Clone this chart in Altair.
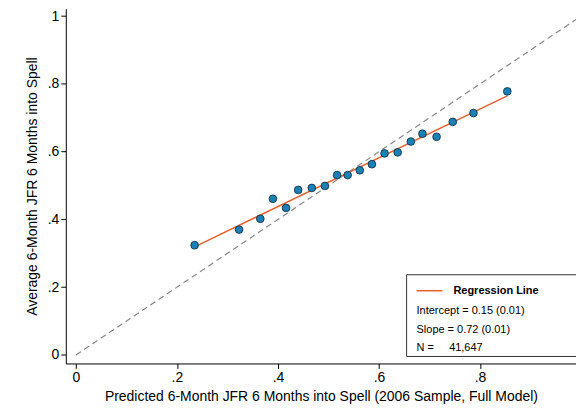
import altair as alt
import pandas as pd

pred = [0.235, 0.323, 0.365, 0.390, 0.416, 0.440, 0.467, 0.493, 0.517, 0.538,
        0.562, 0.586, 0.611, 0.637, 0.663, 0.686, 0.714, 0.746, 0.787, 0.854]
actual = [0.324, 0.370, 0.402, 0.461, 0.434, 0.487, 0.493, 0.499, 0.531, 0.531,
          0.545, 0.563, 0.595, 0.598, 0.630, 0.653, 0.644, 0.688, 0.714, 0.778]
intercept, slope = 0.15, 0.72
ticks = [0, 0.2, 0.4, 0.6, 0.8, 1]

pts = pd.DataFrame({"x": pred, "y": actual})
fit = pd.DataFrame({"x": [min(pred), max(pred)]})
fit["y"] = intercept + slope * fit["x"]
diag = pd.DataFrame({"x": [0, 1], "y": [0, 1]})

lab = "datum.value == 0 ? '0' : datum.value == 1 ? '1' : replace(format(datum.value, '.1f'), '0.', '.')"
X = alt.X("x:Q", scale=alt.Scale(domain=[-0.02, 0.99], nice=False),
          axis=alt.Axis(values=ticks, labelExpr=lab, grid=False, domainColor="black", tickColor="black",
                        labelFont="Liberation Sans", labelFontSize=14, labelColor="black",
                        titleFont="Liberation Sans", titleFontSize=14, titleFontWeight="normal",
                        titleColor="black", titlePadding=5),
          title="Predicted 6-Month JFR 6 Months into Spell (2006 Sample, Full Model)")
Y = alt.Y("y:Q", scale=alt.Scale(domain=[-0.025, 1.022], nice=False),
          axis=alt.Axis(values=ticks, labelExpr=lab, grid=False, domainColor="black", tickColor="black",
                        labelFont="Liberation Sans", labelFontSize=14, labelColor="black", labelAngle=0,
                        titleFont="Liberation Sans", titleFontSize=14, titleFontWeight="normal",
                        titleColor="black", titlePadding=8),
          title="Average 6-Month JFR 6 Months into Spell")

d = alt.Chart(diag).mark_line(color="#888888", strokeDash=[6, 4], strokeWidth=1.2, clip=True).encode(x=X, y=Y)
l = alt.Chart(fit).mark_line(color="#e8612c", strokeWidth=1.5).encode(x="x:Q", y="y:Q")
p = alt.Chart(pts).mark_point(filled=True, size=60, fill="#1a80b6", stroke="#0b2a3a",
                              strokeWidth=0.8, opacity=1).encode(x="x:Q", y="y:Q")

one = pd.DataFrame({"a": [0]})
box = alt.Chart(one).mark_rect(fill="white", stroke="black", strokeWidth=0.8).encode(
    x=alt.value(342), x2=alt.value(520), y=alt.value(267), y2=alt.value(349))
sw = alt.Chart(one).mark_rule(color="#e8612c", strokeWidth=1.5).encode(
    x=alt.value(352), x2=alt.value(378), y=alt.value(283))
head = alt.Chart(one).mark_text(align="left", baseline="middle", font="Liberation Sans", fontSize=11,
                                fontWeight="bold", color="black", text="Regression Line").encode(
    x=alt.value(389), y=alt.value(283))
rest = pd.DataFrame({"t": [f"Intercept = {intercept:.2f} (0.01)", f"Slope = {slope:.2f} (0.01)",
                           "N =\u00a0\u00a0\u00a0\u00a0\u00a041,647"], "py": [303, 322, 341]})
txt = alt.Chart(rest).mark_text(align="left", baseline="middle", font="Liberation Sans",
                                fontSize=11, color="black").encode(
    x=alt.value(352), y=alt.Y("py:Q", scale=None), text="t:N")

chart = alt.layer(d, l, p, box, sw, head, txt).properties(
    width=512, height=356, autosize="none",
    padding={"left": 58, "top": 0, "right": 0, "bottom": 46}
).configure_view(stroke=None)
chart.save("out.html", embed_options={"renderer": "svg", "actions": False})
